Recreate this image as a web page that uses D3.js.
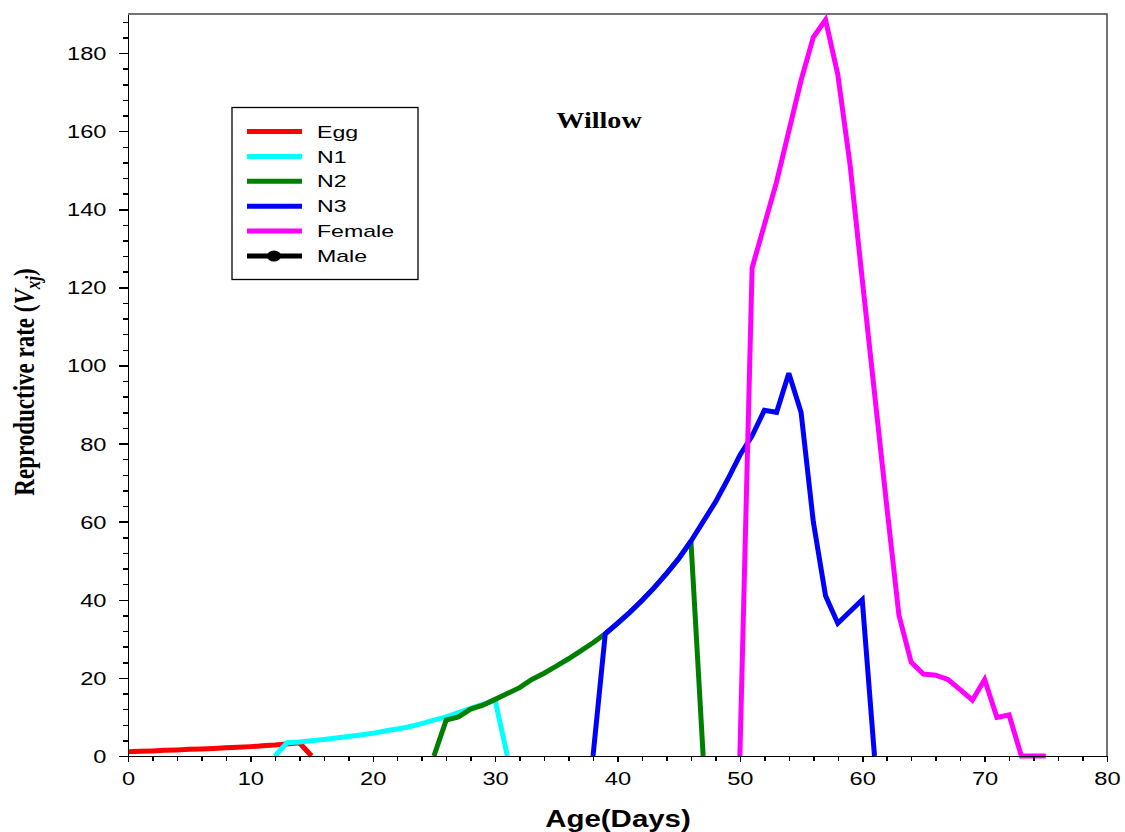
<!DOCTYPE html>
<html lang="en">
  <head>
    <meta charset="UTF-8">
    <script type="text/javascript" src="https://cdn.jsdelivr.net/npm/d3@7"></script>
    <style>
      body { margin: 0; background: #fff; }
      .axis path,
      .axis line {
        stroke: #000;
        stroke-width: 1.5;
        shape-rendering: crispEdges;
      }
      .axis text {
        font-family: 'Liberation Sans', Arial, sans-serif;
        font-size: 18.5px;
        fill: #000;
      }
    </style>
    <title>Willow</title>
  </head>
  <body>
    <script type="text/javascript">
      // Age (days) and reproductive rate per stage
      let eggStart = 0;
      let eggVals = [1.1, 1.2, 1.3, 1.45, 1.55, 1.7, 1.8, 1.95, 2.1, 2.25, 2.4, 2.6, 2.8, 3.1, 3.4, 0];

      let n1Start = 12;
      let n1Vals = [0, 3.4, 3.6, 3.9, 4.2, 4.6, 5.0, 5.4, 5.8, 6.4, 6.9, 7.5, 8.3, 9.2, 10.0, 11.1, 12.2, 13.2, 14.3, 0];

      let n2Start = 25;
      let n2Vals = [0, 9.2, 10, 12, 13, 14.5, 16, 17.5, 19.6, 21.2, 23, 24.9, 26.9, 29, 31.3, 33.9, 36.7, 39.8, 43.1, 46.7, 50.6, 55, 0];

      let n3Start = 38;
      let n3Vals = [0, 31.3, 34, 36.8, 39.8, 43.1, 46.7, 50.5, 55, 60, 65, 70.8, 77, 82, 88.5, 88, 98, 88, 60, 41, 34, 37, 40, 0];

      let femaleStart = 50;
      let femaleVals = [0, 125, 136, 147, 160, 173, 184, 188.5, 174.5, 151.5, 122, 93, 64, 36, 24, 21, 20.7, 19.6, 17, 14.3, 19.6, 9.9, 10.5, 0, 0, 0];

      let maleStart = 0;
      let maleVals = []; // listed in the legend only

      let seriesNames = ['Egg', 'N1', 'N2', 'N3', 'Female', 'Male'];
      let seriesColors = ['#ff0000', '#00ffff', '#008000', '#0000ff', '#ff00ff', '#000000'];

      let xTicks = [0, 10, 20, 30, 40, 50, 60, 70, 80];
      let yTicks = [0, 20, 40, 60, 80, 100, 120, 140, 160, 180];

      let toPoints = (start, vals) => vals.map((v, i) => [start + i, v]);
      let series = [
        toPoints(eggStart, eggVals),
        toPoints(n1Start, n1Vals),
        toPoints(n2Start, n2Vals),
        toPoints(n3Start, n3Vals),
        toPoints(femaleStart, femaleVals),
        toPoints(maleStart, maleVals)
      ];

      let w = 1125;
      let h = 832;
      let plotL = 128, plotR = 1107, plotT = 14, plotB = 756;
      let sx = 1.28; // the source picture is stretched sideways

      let xScale = d3.scaleLinear().domain([0, 80]).range([plotL, plotR]);
      let yScale = d3.scaleLinear().domain([0, 190]).range([plotB, plotT]);

      let svg = d3.select('body')
                  .append('svg')
                  .attr('width', w)
                  .attr('height', h);

      // frame top and right
      svg.append('path')
          .attr('d', 'M' + plotL + ',' + plotT + 'H' + plotR + 'V' + plotB)
          .attr('fill', 'none')
          .attr('stroke', '#444')
          .attr('stroke-width', 1.5);

      // lines
      let line = d3.line()
                   .x(d => xScale(d[0]))
                   .y(d => yScale(d[1]));

      svg.selectAll('.series')
          .data(series.slice(0, 5))
          .enter()
          .append('path')
          .attr('class', 'series')
          .attr('d', line)
          .attr('fill', 'none')
          .attr('stroke', (d, i) => seriesColors[i])
          .attr('stroke-width', 5)
          .attr('stroke-linejoin', 'miter')
          .attr('stroke-miterlimit', 3);

      // x axis: minor ticks every 2 days
      svg.append('g')
          .attr('class', 'axis')
          .attr('transform', 'translate(0,' + plotB + ')')
          .call(d3.axisBottom(xScale).tickValues(d3.range(0, 81, 2)).tickSize(5).tickSizeOuter(0).tickFormat(''));
      let xAxis = svg.append('g')
          .attr('class', 'axis')
          .attr('transform', 'translate(0,' + plotB + ')')
          .call(d3.axisBottom(xScale).tickValues(xTicks).tickSize(6).tickSizeOuter(0));
      xAxis.selectAll('text')
          .attr('y', 29)
          .attr('dy', 0)
          .attr('transform', 'scale(' + sx + ',1)');

      // y axis: minor ticks every 4
      svg.append('g')
          .attr('class', 'axis')
          .attr('transform', 'translate(' + plotL + ',0)')
          .call(d3.axisLeft(yScale).tickValues(d3.range(0, 190, 4)).tickSize(5).tickSizeOuter(0).tickFormat(''));
      let yAxis = svg.append('g')
          .attr('class', 'axis')
          .attr('transform', 'translate(' + plotL + ',0)')
          .call(d3.axisLeft(yScale).tickValues(yTicks).tickSize(9).tickSizeOuter(0));
      yAxis.selectAll('text')
          .attr('x', -21.5 / sx)
          .attr('dy', '0.35em')
          .attr('transform', 'scale(' + sx + ',1)');

      // axis titles
      svg.append('text')
          .attr('transform', 'translate(618,827) scale(' + sx + ',1)')
          .attr('text-anchor', 'middle')
          .style('font-family', "'Liberation Sans', Arial, sans-serif")
          .style('font-weight', 'bold')
          .style('font-size', '23px')
          .text('Age(Days)');

      let yLabel = svg.append('text')
          .attr('transform', 'translate(34,382) scale(' + sx + ',1) rotate(-90)')
          .attr('text-anchor', 'middle')
          .style('font-family', "'Liberation Serif', 'Times New Roman', serif")
          .style('font-weight', 'bold')
          .style('font-size', '23px');
      yLabel.append('tspan').text('Reproductive rate (');
      yLabel.append('tspan').style('font-style', 'italic').text('V');
      yLabel.append('tspan').style('font-style', 'italic').style('font-size', '17px').attr('dy', 5).text('xj');
      yLabel.append('tspan').attr('dy', -5).text(')');

      // title
      svg.append('text')
          .attr('transform', 'translate(599,128) scale(1.25,1)')
          .attr('text-anchor', 'middle')
          .style('font-family', "'Liberation Serif', 'Times New Roman', serif")
          .style('font-weight', 'bold')
          .style('font-size', '22.5px')
          .text('Willow');

      // legend
      let legend = svg.append('g');
      legend.append('rect')
          .attr('x', 232)
          .attr('y', 107.5)
          .attr('width', 186)
          .attr('height', 172)
          .attr('fill', '#fff')
          .attr('stroke', '#000')
          .attr('stroke-width', 1.3);

      let items = legend.selectAll('.item')
          .data(seriesNames)
          .enter()
          .append('g')
          .attr('class', 'item')
          .attr('transform', (d, i) => 'translate(0,' + (131.5 + i * 24.9) + ')');

      items.append('line')
          .attr('x1', 247)
          .attr('x2', 302)
          .attr('stroke', (d, i) => seriesColors[i])
          .attr('stroke-width', 5);

      items.filter(d => d === 'Male')
          .append('ellipse')
          .attr('cx', 274)
          .attr('rx', 7)
          .attr('ry', 5.5)
          .attr('fill', '#000');

      items.append('text')
          .attr('transform', 'translate(317,0) scale(1.36,1)')
          .attr('dy', '0.36em')
          .style('font-family', "'Liberation Sans', Arial, sans-serif")
          .style('font-size', '17px')
          .text(d => d);
    </script>
  </body>
</html>
